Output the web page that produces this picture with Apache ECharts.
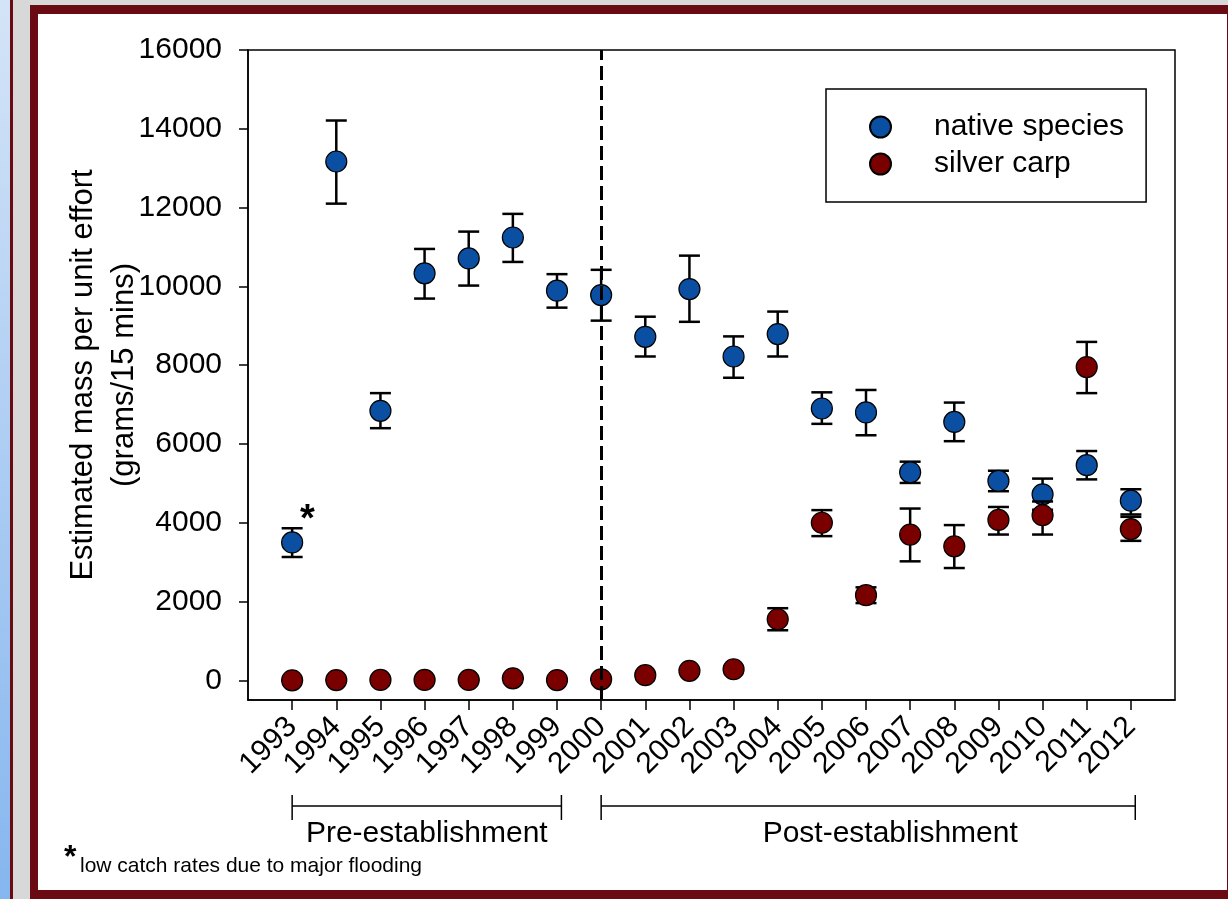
<!DOCTYPE html>
<html>
<head>
<meta charset="utf-8">
<script src="https://cdn.jsdelivr.net/npm/echarts@6/dist/echarts.min.js"></script>
<style>
  html, body { margin: 0; padding: 0; width: 1228px; height: 899px; overflow: hidden; background: #d8d8d8; }
  #strip { position: absolute; left: 0; top: 0; width: 10px; height: 899px; background: linear-gradient(#d4e4f7, #86b6ef); }
  #thin { position: absolute; left: 10px; top: 0; width: 3px; height: 899px; background: #6a0a12; }
  #frame { position: absolute; left: 30px; top: 5px; right: 0; bottom: 0; background: #6a0a12; }
  #panel { position: absolute; left: 38px; top: 14px; right: 1px; bottom: 9px; background: #ffffff; }
  #chart { position: absolute; left: 0; top: 0; width: 1228px; height: 899px; }
</style>
</head>
<body>
<div id="strip"></div>
<div id="thin"></div>
<div id="frame"></div>
<div id="panel"></div>
<div id="chart"></div>
<script>
// ---- data ----
const years = [1993,1994,1995,1996,1997,1998,1999,2000,2001,2002,2003,2004,2005,2006,2007,2008,2009,2010,2011,2012];
const nativeMean = [3500,13170,6840,10330,10710,11240,9890,9780,8720,9930,8220,8790,6900,6800,5280,6560,5060,4720,5460,4560];
const nativeLow  = [3130,12100,6400,9690,10020,10620,9460,9130,8220,9100,7680,8220,6510,6220,5010,6070,4800,4330,5100,4210];
const nativeHigh = [3860,14210,7290,10950,11390,11840,10310,10420,9230,10780,8730,9360,7310,7370,5550,7050,5320,5120,5820,4850];
const carpMean = [0,5,10,10,10,50,5,25,130,240,280,1550,4000,2160,3700,3400,4070,4190,7950,3840];
const carpLow  = [0,5,10,10,10,50,5,25,90,180,220,1270,3660,1960,3020,2850,3700,3700,7290,3540];
const carpHigh = [0,5,10,10,10,50,5,25,170,300,340,1830,4320,2360,4360,3940,4400,4540,8590,4150];
const yTicks = [0,2000,4000,6000,8000,10000,12000,14000,16000];
const establishmentYear = 2000;
const periods = [
  { name: 'Pre-establishment', start: 1993, end: 1999.1 },
  { name: 'Post-establishment', start: 2000, end: 2012.1 }
];
const seriesNames = ['native species', 'silver carp'];
const footnote = 'low catch rates due to major flooding';

// ---- chart ----
const FONT = '"Liberation Sans", Arial, sans-serif';
const chart = echarts.init(document.getElementById('chart'), null, { renderer: 'canvas' });

function errorBarRender(params, api) {
  const x = api.value(0);
  const top = api.coord([x, api.value(2)]);
  const bot = api.coord([x, api.value(1)]);
  const hw = 10.5;
  const style = { stroke: '#000', lineWidth: 2.5, fill: null };
  return {
    type: 'group',
    children: [
      { type: 'line', shape: { x1: top[0], y1: top[1], x2: bot[0], y2: bot[1] }, style: style },
      { type: 'line', shape: { x1: top[0] - hw, y1: top[1], x2: top[0] + hw, y2: top[1] }, style: style },
      { type: 'line', shape: { x1: bot[0] - hw, y1: bot[1], x2: bot[0] + hw, y2: bot[1] }, style: style }
    ]
  };
}

const labelOffsets = [0, 22];
function bracketRender(params, api) {
  const s = api.coord([api.value(0), -500]);
  const e = api.coord([api.value(1), -500]);
  const base = s[1];
  const yLine = base + 106;
  const style = { stroke: '#000', lineWidth: 1.5, fill: null };
  return {
    type: 'group',
    children: [
      { type: 'line', shape: { x1: s[0], y1: yLine, x2: e[0], y2: yLine }, style: style },
      { type: 'line', shape: { x1: s[0], y1: base + 95, x2: s[0], y2: base + 120 }, style: style },
      { type: 'line', shape: { x1: e[0], y1: base + 95, x2: e[0], y2: base + 120 }, style: style },
      { type: 'text', style: {
          text: periods[params.dataIndex].name,
          x: (s[0] + e[0]) / 2 + labelOffsets[params.dataIndex], y: base + 134,
          align: 'center', verticalAlign: 'middle',
          font: '30px ' + FONT, fill: '#000' } }
    ]
  };
}

const nativeData = years.map((y, i) => {
  const item = { value: [y, nativeMean[i]] };
  if (i === 0) {
    item.label = { show: true, formatter: '*', position: [19, -30], fontSize: 38, fontWeight: 'bold', color: '#000', fontFamily: FONT };
  }
  return item;
});

const option = {
  animation: false,
  textStyle: { fontFamily: FONT, color: '#000' },
  grid: { left: 248, top: 50, width: 927, height: 650, show: true, borderColor: '#000', borderWidth: 1.5, backgroundColor: 'transparent', containLabel: false },
  legend: {
    data: seriesNames,
    orient: 'vertical',
    left: 826, top: 89,
    padding: [23, 22, 23, 43],
    itemGap: 7,
    itemWidth: 21, itemHeight: 21,
    icon: 'circle',
    borderColor: '#000', borderWidth: 1.5,
    backgroundColor: '#fff',
    textStyle: { fontSize: 30, lineHeight: 30, color: '#000', fontFamily: FONT, padding: [0, 0, 0, 38] }
  },
  xAxis: {
    type: 'value', min: 1992, max: 2013,
    axisLine: { show: true, onZero: false, lineStyle: { color: '#000', width: 1.5 } },
    axisTick: { show: true, customValues: years, length: 10, lineStyle: { color: '#000', width: 1.5 } },
    axisLabel: { customValues: years, rotate: 45, fontSize: 30, color: '#000', margin: 22, fontFamily: FONT, formatter: v => String(v) },
    splitLine: { show: false }
  },
  yAxis: {
    type: 'value', min: -500, max: 16000,
    name: 'Estimated mass per unit effort\n(grams/15 mins)',
    nameLocation: 'middle', nameRotate: 90, nameGap: 103, nameMoveOverlap: false,
    nameTextStyle: { fontSize: 31, lineHeight: 41, color: '#000', fontFamily: FONT },
    axisLine: { show: true, onZero: false, lineStyle: { color: '#000', width: 1.5 } },
    axisTick: { show: true, customValues: yTicks, length: 9, lineStyle: { color: '#000', width: 1.5 } },
    axisLabel: { customValues: yTicks, fontSize: 30, color: '#000', margin: 26, fontFamily: FONT, formatter: v => String(v) },
    splitLine: { show: false }
  },
  series: [
    { name: 'native err', type: 'custom', renderItem: errorBarRender, z: 1, silent: true,
      data: years.map((y, i) => [y, nativeLow[i], nativeHigh[i]]) },
    { name: seriesNames[0], type: 'scatter', z: 2, symbol: 'circle', symbolSize: 21,
      itemStyle: { color: '#0b4fa3', borderColor: '#000', borderWidth: 1.2, opacity: 1 },
      data: nativeData },
    { name: 'carp err', type: 'custom', renderItem: errorBarRender, z: 3, silent: true,
      data: years.map((y, i) => [y, carpLow[i], carpHigh[i]]) },
    { name: seriesNames[1], type: 'scatter', z: 4, symbol: 'circle', symbolSize: 21,
      itemStyle: { color: '#7a0000', borderColor: '#000', borderWidth: 1.2, opacity: 1 },
      data: years.map((y, i) => [y, carpMean[i]]) },
    { name: 'establishment', type: 'line', z: 10, data: [], silent: true,
      markLine: { silent: true, symbol: ['none', 'none'], label: { show: false },
        lineStyle: { type: [14, 6], width: 3, color: '#000' },
        emphasis: { disabled: true },
        data: [{ xAxis: establishmentYear }] } },
    { name: 'periods', type: 'custom', renderItem: bracketRender, clip: false, silent: true, z: 5,
      data: periods.map(p => [p.start, p.end]) }
  ],
  graphic: [
    { type: 'text', left: 64, top: 842, style: { text: '*', font: 'bold 32px ' + FONT, fill: '#000' } },
    { type: 'text', left: 80, top: 856, style: { text: footnote, font: '21px ' + FONT, fill: '#000' } }
  ]
};
chart.setOption(option);
</script>
</body>
</html>
